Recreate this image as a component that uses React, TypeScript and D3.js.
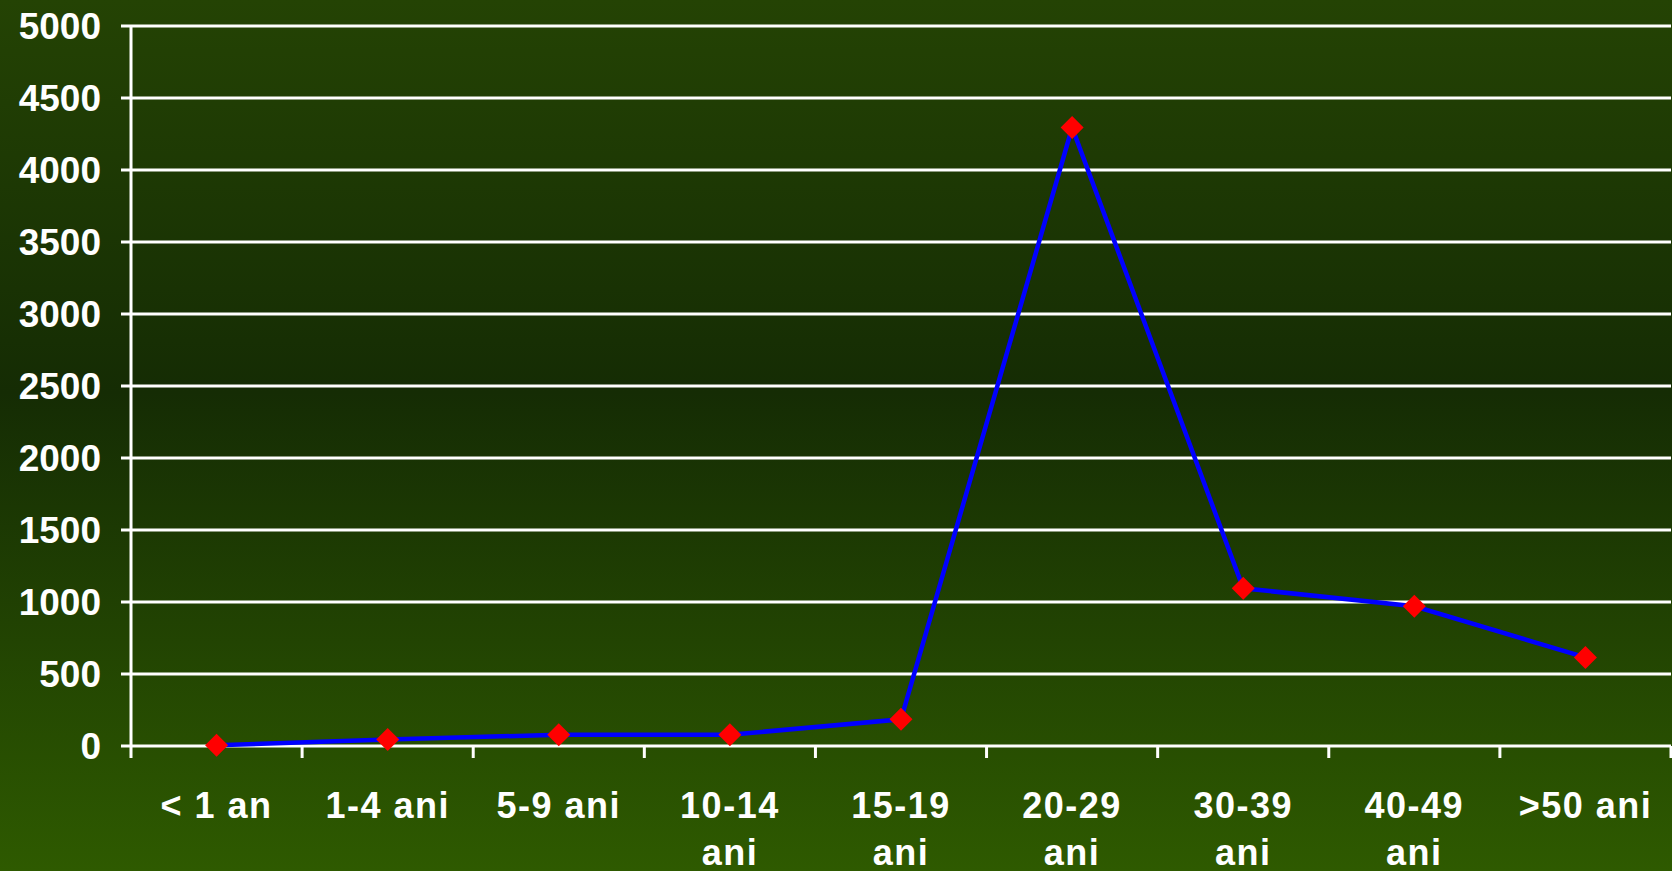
import * as d3 from "d3";

const categories = ["< 1 an", "1-4 ani", "5-9 ani", "10-14 ani", "15-19 ani", "20-29 ani", "30-39 ani", "40-49 ani", ">50 ani"];
const labelLines = [["< 1 an"], ["1-4 ani"], ["5-9 ani"], ["10-14", "ani"], ["15-19", "ani"], ["20-29", "ani"], ["30-39", "ani"], ["40-49", "ani"], [">50 ani"]];
const values = [5, 45, 78, 78, 185, 4295, 1095, 970, 615];
const yTicks = [0, 500, 1000, 1500, 2000, 2500, 3000, 3500, 4000, 4500, 5000];

export default function App() {
  const width = 1672;
  const height = 871;
  const margin = { top: 26, right: 1, bottom: 125, left: 131 };

  const x = d3.scaleBand<string>()
    .domain(categories)
    .range([margin.left, width - margin.right]);
  const y = d3.scaleLinear().domain([0, 5000]).range([height - margin.bottom, margin.top]);

  const line = d3.line<number>()
    .x((_, i) => x(categories[i])! + x.bandwidth() / 2)
    .y((d) => y(d));

  const font = "'Liberation Sans', Arial, sans-serif";
  const y0 = y(0);

  return (
    <svg width={width} height={height} style={{ position: "absolute", left: 0, top: 0, display: "block" }}>
      <defs>
        <linearGradient id="bg" x1="0" y1="0" x2="0" y2="1">
          <stop offset="0%" stopColor="#244304" />
          <stop offset="45%" stopColor="#152c04" />
          <stop offset="100%" stopColor="#2e5a00" />
        </linearGradient>
      </defs>
      <rect width={width} height={height} fill="url(#bg)" />

      {/* grid + y ticks */}
      {yTicks.map((t) => (
        <g key={t}>
          <line x1={margin.left - 10} x2={width - margin.right} y1={y(t)} y2={y(t)} stroke="#ffffff" strokeWidth={3} />
          <text x={101} y={y(t)} dy="0.36em" textAnchor="end" fill="#ffffff" fontFamily={font} fontWeight="bold" fontSize={37}>
            {t}
          </text>
        </g>
      ))}

      {/* axes */}
      <line x1={margin.left} x2={margin.left} y1={margin.top} y2={y0 + 12} stroke="#ffffff" strokeWidth={3} />
      {categories.map((c) => (
        <line key={c} x1={x(c)! + x.bandwidth()} x2={x(c)! + x.bandwidth()} y1={y0} y2={y0 + 12} stroke="#ffffff" strokeWidth={3} />
      ))}

      {/* x labels */}
      {categories.map((c, i) => (
        <text key={c} x={x(c)! + x.bandwidth() / 2} y={818} textAnchor="middle" fill="#ffffff" fontFamily={font} fontWeight="bold" fontSize={36} letterSpacing={1.5}>
          {labelLines[i].map((l, j) => (
            <tspan key={j} x={x(c)! + x.bandwidth() / 2} dy={j === 0 ? 0 : 47}>{l}</tspan>
          ))}
        </text>
      ))}

      {/* series */}
      <path d={line(values)!} fill="none" stroke="#0000ff" strokeWidth={4.5} />
      {values.map((v, i) => {
        const cx = x(categories[i])! + x.bandwidth() / 2;
        const cy = y(v);
        const r = 11.5;
        return <path key={i} d={`M${cx},${cy - r}L${cx + r},${cy}L${cx},${cy + r}L${cx - r},${cy}Z`} fill="#ff0000" />;
      })}
    </svg>
  );
}
